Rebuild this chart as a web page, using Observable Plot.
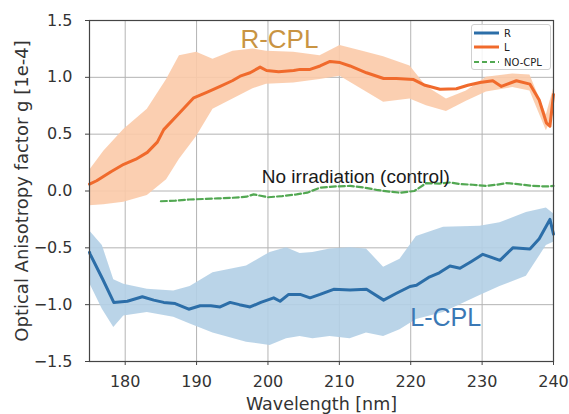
<!DOCTYPE html>
<html>
<head>
<meta charset="utf-8">
<script src="https://cdn.jsdelivr.net/npm/d3@7"></script>
<script src="https://cdn.jsdelivr.net/npm/@observablehq/plot@0.6"></script>
<style>
  html, body { margin: 0; padding: 0; background: #fff; }
  #wrap { position: relative; width: 569px; height: 414px; }
  #legend { position: absolute; left: 471px; top: 24px; width: 80px; height: 46px;
    border: 1px solid #d0d0d0; border-radius: 3px; background: rgba(255,255,255,0.85);
    font-family: "DejaVu Sans", sans-serif; font-size: 10px; color: #222; box-sizing: border-box; }
  .row { position: absolute; left: 2px; display: flex; align-items: center; height: 12px; }
  .row svg { margin-right: 5px; }
</style>
</head>
<body>
<div id="wrap"><div id="legend"></div></div>
<script>
// ---- data ----
const xTicks = [180, 190, 200, 210, 220, 230, 240];
const yTicks = [-1.5, -1.0, -0.5, 0.0, 0.5, 1.0, 1.5];

// L (orange) mean
const lWl  = [175, 176, 178, 179.8, 181.5, 183.1, 184.5, 185.4, 187.5, 189.6, 191.5, 193.3, 195, 196.1, 197.5, 198.9, 199.8, 201.5, 203.6, 204.5, 205.9, 207.3, 208.7, 210.1, 211.5, 213.8, 216.2, 218, 220.4, 222, 224.1, 226.4, 228, 229.7, 231.5, 232.7, 234.8, 236.7, 238, 239, 239.5, 240];
const lVal = [0.06, 0.09, 0.17, 0.235, 0.28, 0.34, 0.43, 0.54, 0.68, 0.82, 0.87, 0.92, 0.97, 1.01, 1.04, 1.09, 1.06, 1.05, 1.06, 1.07, 1.07, 1.10, 1.14, 1.13, 1.10, 1.04, 0.99, 0.99, 0.98, 0.93, 0.895, 0.90, 0.93, 0.955, 0.97, 0.92, 0.97, 0.94, 0.80, 0.60, 0.57, 0.85];

// L band
const lBandWl = [175, 177, 179.8, 183.1, 185.8, 187.6, 190, 192.3, 195.1, 197.9, 199.8, 203.6, 207.3, 210.1, 213.8, 216.2, 219.9, 222.2, 225, 227.8, 230.6, 234.3, 236.7, 239, 240];
const lHi = [0.18, 0.35, 0.54, 0.72, 0.98, 1.19, 1.22, 1.16, 1.23, 1.25, 1.23, 1.22, 1.19, 1.28, 1.22, 1.18, 1.10, 0.92, 0.81, 0.88, 1.00, 1.03, 1.02, 0.67, 0.90];
const lLo = [-0.13, -0.12, -0.10, -0.04, 0.10, 0.28, 0.48, 0.72, 0.81, 0.90, 0.94, 0.95, 0.98, 1.01, 0.87, 0.78, 0.81, 0.75, 0.70, 0.79, 0.87, 0.91, 0.88, 0.53, 0.67];

// R (blue) mean
const rWl  = [175, 175.1, 176.8, 178.4, 180.3, 182.4, 184, 185.4, 187, 188.9, 190.5, 192, 193.3, 194.7, 196, 197.5, 199, 200.8, 201.7, 202.9, 204.5, 205.9, 207.3, 209.2, 211.5, 213.8, 216.2, 218, 219.9, 220.8, 222.5, 224, 225.5, 226.9, 228.5, 230.1, 232.5, 234.3, 236.7, 238, 239.5, 240];
const rVal = [-0.54, -0.557, -0.77, -0.98, -0.97, -0.93, -0.96, -0.98, -0.99, -1.04, -1.01, -1.01, -1.02, -0.98, -1.0, -1.02, -0.98, -0.94, -0.97, -0.91, -0.91, -0.94, -0.91, -0.865, -0.87, -0.865, -0.96, -0.90, -0.84, -0.83, -0.76, -0.72, -0.66, -0.68, -0.62, -0.557, -0.61, -0.50, -0.51, -0.42, -0.25, -0.38];

// R band
const rBandWl = [175, 176.8, 178.4, 179.8, 183.1, 186.8, 189.1, 192.3, 197, 200.3, 202.6, 204.5, 206.3, 208.7, 211.5, 213.8, 216.2, 218.5, 220.8, 224.6, 229.7, 232.5, 236.2, 239, 240];
const rHi = [-0.35, -0.48, -0.78, -0.82, -0.865, -0.88, -0.84, -0.72, -0.66, -0.54, -0.50, -0.55, -0.54, -0.51, -0.50, -0.51, -0.67, -0.60, -0.40, -0.32, -0.31, -0.28, -0.19, -0.15, -0.20];
const rLo = [-0.81, -1.04, -1.20, -1.10, -1.07, -1.11, -1.17, -1.25, -1.33, -1.36, -1.30, -1.28, -1.30, -1.28, -1.30, -1.25, -1.28, -1.22, -1.13, -1.07, -0.92, -0.84, -0.75, -0.48, -0.45];

// NO-CPL (green dashed)
const nWl  = [185, 187, 189, 191, 193, 195, 197, 198, 200, 202, 204, 205.5, 207.3, 209.5, 211.5, 213.5, 215.2, 217, 218.5, 220.5, 222.2, 224, 225.5, 227, 228.7, 230.6, 232, 233.4, 235, 237.1, 239, 240];
const nVal = [-0.09, -0.085, -0.075, -0.07, -0.065, -0.06, -0.05, -0.03, -0.055, -0.045, -0.03, -0.015, 0.03, 0.04, 0.045, 0.03, 0.01, -0.005, -0.015, 0.0, 0.07, 0.065, 0.075, 0.06, 0.055, 0.045, 0.055, 0.07, 0.06, 0.045, 0.04, 0.045];

// annotations
const noteText = ["R-CPL", "No irradiation (control)", "L-CPL"];
const noteX = [201.6, 212.3, 224.9];
const noteY = [1.335, 0.125, -1.116];

const legendNames = ["R", "L", "NO-CPL"];

// ---- build ----
const C_BLUE = "#2c6ea8", C_ORANGE = "#f06a2c", C_GREEN = "#52a852";
const lLine = lWl.map((w, i) => ({w, v: lVal[i]}));
const rLine = rWl.map((w, i) => ({w, v: rVal[i]}));
const nLine = nWl.map((w, i) => ({w, v: nVal[i]}));
const lBand = lBandWl.map((w, i) => ({w, lo: lLo[i], hi: lHi[i]}));
const rBand = rBandWl.map((w, i) => ({w, lo: rLo[i], hi: rHi[i]}));
const notes = noteText.map((t, i) => ({t, x: noteX[i], y: noteY[i]}));
const fmt = d3.format(".1f");
const ANNO_FONT = "Liberation Sans, Arial, sans-serif";

const chart = Plot.plot({
  width: 569, height: 414,
  marginLeft: 89, marginRight: 16, marginTop: 20, marginBottom: 53,
  x: {domain: [175, 240]},
  y: {domain: [-1.5, 1.5]},
  style: {fontFamily: "DejaVu Sans, sans-serif", fontSize: "16px", color: "#333", background: "#fff"},
  marks: [
    Plot.gridX(xTicks, {stroke: "#b4b4b4", strokeOpacity: 1, strokeWidth: 1}),
    Plot.gridY(yTicks, {stroke: "#b4b4b4", strokeOpacity: 1, strokeWidth: 1}),
    Plot.areaY(lBand, {x: "w", y1: "lo", y2: "hi", fill: "#fbcaa9", fillOpacity: 0.9}),
    Plot.areaY(rBand, {x: "w", y1: "lo", y2: "hi", fill: "#b3cfe6", fillOpacity: 0.9}),
    Plot.line(nLine, {x: "w", y: "v", stroke: C_GREEN, strokeWidth: 2.2, strokeDasharray: "6,3"}),
    Plot.line(lLine, {x: "w", y: "v", stroke: C_ORANGE, strokeWidth: 3}),
    Plot.line(rLine, {x: "w", y: "v", stroke: C_BLUE, strokeWidth: 3}),
    Plot.text([notes[0]], {x: "x", y: "y", text: "t", fill: "#c99442", fontSize: 26, fontFamily: ANNO_FONT}),
    Plot.text([notes[1]], {x: "x", y: "y", text: "t", fill: "#1a1a1a", fontSize: 19, fontFamily: ANNO_FONT}),
    Plot.text([notes[2]], {x: "x", y: "y", text: "t", fill: "#3a78b5", fontSize: 25, fontFamily: ANNO_FONT}),
    Plot.frame({stroke: "#444", strokeWidth: 1.2}),
    Plot.axisX(xTicks, {tickSize: 4, tickPadding: 10, label: null, tickFormat: d => String(d), fontSize: 16, stroke: "#444"}),
    Plot.axisY(yTicks, {tickSize: 4, tickPadding: 13, label: null, tickFormat: d => fmt(d), fontSize: 16, stroke: "#444"}),
    Plot.text(["Wavelength [nm]"], {frameAnchor: "bottom", dy: 43, lineAnchor: "middle", textAnchor: "middle", fontSize: 17.5, fill: "#333"}),
    Plot.text(["Optical Anisotropy factor g [1e-4]"], {frameAnchor: "left", dx: -67, rotate: -90, textAnchor: "middle", lineAnchor: "middle", fontSize: 18, fill: "#333"})
  ]
});
document.getElementById("wrap").prepend(chart);

// legend
const legColors = [C_BLUE, C_ORANGE, C_GREEN];
const legDash = [null, null, "5,3"];
const legTops = [2, 16, 31];
const leg = document.getElementById("legend");
legendNames.forEach((name, i) => {
  const row = document.createElement("div");
  row.className = "row";
  row.style.top = legTops[i] + "px";
  row.innerHTML = `<svg width="25" height="6"><line x1="0" y1="3" x2="25" y2="3" stroke="${legColors[i]}" stroke-width="${i === 2 ? 2 : 3}" ${legDash[i] ? `stroke-dasharray="${legDash[i]}"` : ""}/></svg><span>${name}</span>`;
  leg.appendChild(row);
});
</script>
</body>
</html>
